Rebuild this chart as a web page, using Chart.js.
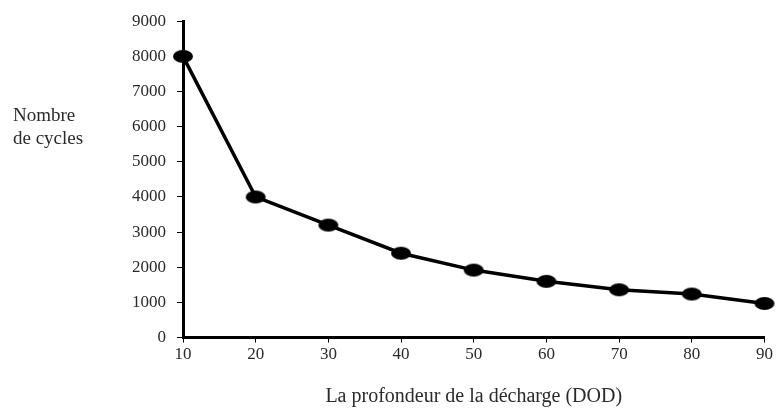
<!DOCTYPE html>
<html>
<head>
<meta charset="utf-8">
<script src="https://cdn.jsdelivr.net/npm/chart.js@4/dist/chart.umd.min.js"></script>
<style>
  html, body { margin: 0; padding: 0; background: #fff; }
  #wrap { width: 776px; height: 409px; }
</style>
</head>
<body>
<div id="wrap"><canvas id="chart" width="776" height="409"></canvas></div>
<script>
const dod = [10, 20, 30, 40, 50, 60, 70, 80, 90];
const cycles = [8000, 4000, 3200, 2400, 1920, 1600, 1360, 1240, 970];
const yTitleLines = ['Nombre', 'de cycles'];
const xTitle = 'La profondeur de la décharge (DOD)';

// flattened ellipse marker like the original
const dot = document.createElement('canvas');
dot.width = 22; dot.height = 15;
const dctx = dot.getContext('2d');
dctx.fillStyle = '#000';
dctx.beginPath();
dctx.ellipse(11, 7.5, 10, 6.5, 0, 0, Math.PI * 2);
dctx.fill();

const serif = "'Liberation Serif', 'DejaVu Serif', serif";

const yTitlePlugin = {
  id: 'yTitle',
  afterDraw(chart) {
    const ctx = chart.ctx;
    ctx.save();
    ctx.fillStyle = '#2a2a2a';
    ctx.font = '19px ' + serif;
    ctx.textAlign = 'left';
    ctx.textBaseline = 'middle';
    ctx.fillText(yTitleLines[0], 13, 116);
    ctx.fillText(yTitleLines[1], 13, 139);
    ctx.restore();
  }
};

new Chart(document.getElementById('chart'), {
  type: 'line',
  data: {
    datasets: [{
      data: dod.map((x, i) => ({ x, y: cycles[i] })),
      borderColor: '#000',
      borderWidth: 3.5,
      pointStyle: dot,
      pointRadius: 8,
      pointHoverRadius: 8,
      tension: 0,
      clip: false
    }]
  },
  options: {
    responsive: false,
    animation: false,
    layout: { padding: { left: 121, right: 5, top: 20, bottom: 0 } },
    plugins: { legend: { display: false }, tooltip: { enabled: false } },
    scales: {
      x: {
        type: 'linear',
        min: 10, max: 90,
        border: { color: '#000', width: 3 },
        grid: { drawOnChartArea: false, drawTicks: true, tickLength: 5, color: '#000' },
        ticks: { stepSize: 10, color: '#2a2a2a', font: { family: serif, size: 17 }, padding: 2 },
        title: { display: true, text: xTitle, color: '#2a2a2a', font: { family: serif, size: 20 }, padding: { top: 18, bottom: 0 } }
      },
      y: {
        min: 0, max: 9000,
        border: { color: '#000', width: 3 },
        grid: { drawOnChartArea: false, drawTicks: true, tickLength: 6, color: '#000' },
        ticks: { stepSize: 1000, color: '#2a2a2a', font: { family: serif, size: 17 }, padding: 11,
                 callback: v => String(v) }
      }
    }
  },
  plugins: [yTitlePlugin]
});
</script>
</body>
</html>
